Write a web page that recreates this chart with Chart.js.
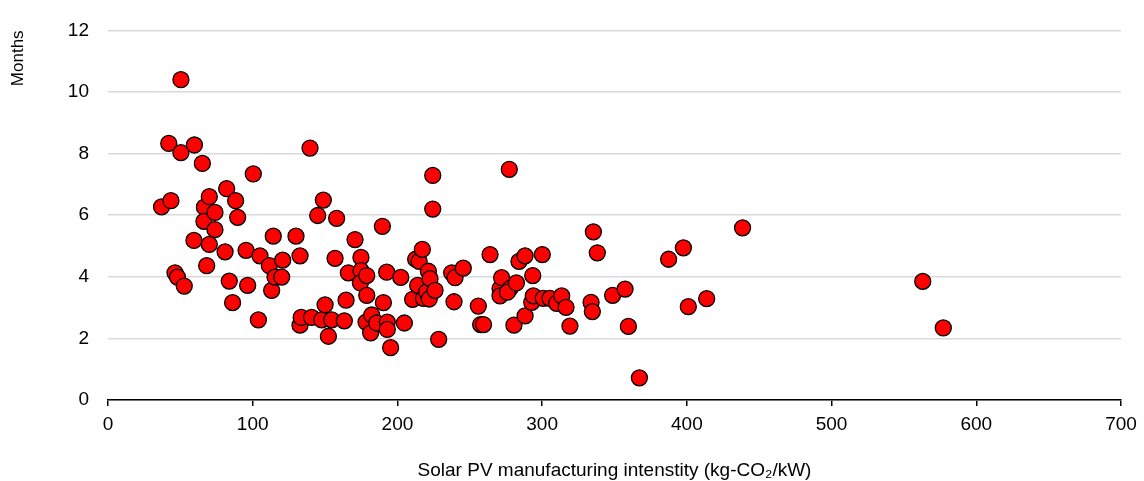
<!DOCTYPE html>
<html>
<head>
<meta charset="utf-8">
<title>Payback months vs PV manufacturing intensity</title>
<script src="https://cdn.jsdelivr.net/npm/chart.js@4/dist/chart.umd.min.js"></script>
<style>
    html, body { margin: 0; padding: 0; background: #fff; }
    #wrap { width: 1144px; height: 481px; }
</style>
</head>
<body>
<div id="wrap"><canvas id="scatterChart"></canvas></div>
<script>
// Values
const intensity = [
    37, 42, 43.5, 46.3, 48, 50.4, 50.4, 52.7, 59.4, 59.7,
    65.2, 66.6, 66.3, 68.2, 70, 70, 73.9, 73.9, 82, 80.9,
    83.8, 86.1, 88.2, 89.6, 95.4, 96.5, 100.4, 103.9, 105, 111.5,
    113.1, 114.2, 115.4, 120, 120.7, 129.9, 132.7, 132.7, 133.5, 139.6,
    140.7, 144.9, 147.7, 148.8, 150, 152.3, 154.6, 156.9, 158, 163.3,
    164.5, 166.1, 170.7, 174.8, 174.8, 174.4, 178.8, 178.8, 178.3, 181.5,
    182.2, 185.7, 189.6, 190.3, 192.6, 193, 193, 195.3, 202.3, 204.8,
    210.5, 212.6, 214, 215, 217.2, 218, 220.2, 221.4, 222, 222.5,
    224.4, 224.4, 226, 228.5, 237.5, 239.8, 239.1, 245.5, 255.9, 257.5,
    259.5, 264, 270.9, 270.9, 272, 277.8, 277.3, 276, 280.5, 282.2,
    284, 288.2, 288.2, 292.8, 293.5, 293.9, 300.1, 300.8, 305.4, 310,
    313.5, 316.5, 319.2, 333.8, 334.7, 335.4, 338.1, 348.7, 357.3, 359.6,
    367.2, 387.4, 397.6, 401, 413.7, 438.5, 563, 577.2
];
const months = [
    6.27, 8.33, 6.47, 4.13, 3.99, 8.03, 10.4, 3.7, 5.18, 8.28,
    7.68, 6.26, 5.8, 4.36, 6.6, 5.05, 6.09, 5.53, 6.86, 4.81,
    3.86, 3.16, 6.47, 5.93, 4.86, 3.72, 7.34, 2.6, 4.68, 4.36,
    3.56, 5.32, 3.99, 3.99, 4.54, 5.32, 4.68, 2.43, 2.68, 8.18,
    2.68, 5.99, 2.6, 6.49, 3.09, 2.07, 2.6, 4.6, 5.9, 2.57,
    3.24, 4.13, 5.21, 4.63, 4.2, 3.8, 4.04, 3.4, 2.53, 2.18,
    2.76, 2.5, 5.64, 3.16, 4.15, 2.53, 2.29, 1.7, 3.98, 2.5,
    3.27, 4.57, 3.72, 4.5, 4.89, 3.3, 3.51, 4.18, 3.28, 3.94,
    7.29, 6.2, 3.56, 1.97, 4.13, 3.97, 3.19, 4.28, 3.05, 2.45,
    2.45, 4.72, 3.62, 3.38, 3.97, 3.62, 7.49, 3.5, 2.43, 3.8,
    4.5, 4.68, 2.73, 3.17, 4.04, 3.38, 4.72, 3.3, 3.3, 3.14,
    3.38, 3.01, 2.4, 3.17, 2.87, 5.46, 4.78, 3.4, 3.6, 2.39,
    0.72, 4.57, 4.94, 3.03, 3.29, 5.59, 3.85, 2.34
];
const xTicks = [0, 100, 200, 300, 400, 500, 600, 700];
const yTicks = [0, 2, 4, 6, 8, 10, 12];

const FONT = 'Liberation Sans, Arial, sans-serif';

document.addEventListener('DOMContentLoaded', drawChart);

function drawChart() {
    const points = intensity.map((x, i) => ({ x: x, y: months[i] }));
    const ctx = document.getElementById('scatterChart').getContext('2d');

    new Chart(ctx, {
        type: 'scatter',
        data: {
            datasets: [{
                data: points,
                backgroundColor: '#ff0000',
                borderColor: '#000000',
                borderWidth: 1.3,
                pointRadius: 8,
                pointHoverRadius: 8
            }]
        },
        options: {
            responsive: true,
            maintainAspectRatio: false,
            animation: false,
            layout: { padding: { top: 24, right: 23, left: 0, bottom: 0 } },
            plugins: {
                legend: { display: false },
                tooltip: { enabled: false }
            },
            scales: {
                x: {
                    type: 'linear',
                    min: xTicks[0],
                    max: xTicks[xTicks.length - 1],
                    afterBuildTicks: s => { s.ticks = xTicks.map(v => ({ value: v })); },
                    afterFit: s => { s.height = 81; },
                    border: { display: true, color: '#000', width: 1.5 },
                    grid: { drawOnChartArea: false, drawTicks: true, tickLength: 6, color: '#000', lineWidth: 1.5 },
                    ticks: { color: '#000', padding: 7, font: { family: FONT, size: 19 }, maxRotation: 0 },
                    title: {
                        display: true,
                        text: 'Solar PV manufacturing intenstity (kg-CO\u2082/kW)',
                        color: '#000',
                        font: { family: FONT, size: 19 },
                        padding: { top: 0, bottom: -1 }
                    }
                },
                y: {
                    type: 'linear',
                    min: yTicks[0],
                    max: yTicks[yTicks.length - 1],
                    afterBuildTicks: s => { s.ticks = yTicks.map(v => ({ value: v })); },
                    afterFit: s => { s.width = 108; },
                    border: { display: false },
                    grid: { drawTicks: false, color: '#d9d9d9', lineWidth: 1.5 },
                    ticks: { color: '#000', padding: 19, font: { family: FONT, size: 19 } },
                    title: {
                        display: true,
                        text: 'Months',
                        align: 'end',
                        color: '#000',
                        font: { family: FONT, size: 17 },
                        padding: { top: 8, bottom: 0 }
                    }
                }
            }
        }
    });
}
</script>
</body>
</html>
